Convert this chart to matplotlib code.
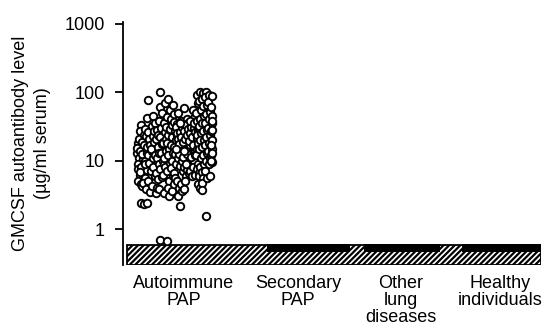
import matplotlib
matplotlib.use("Agg")
import matplotlib.pyplot as plt
from matplotlib.patches import Rectangle
from matplotlib.ticker import NullLocator

plt.rcParams['font.family'] = ['Liberation Sans', 'DejaVu Sans']
plt.rcParams['hatch.linewidth'] = 1.6

categories = ["Autoimmune\nPAP", "Secondary\nPAP", "Other\nlung\ndiseases", "Healthy\nindividuals"]
yticks = [1, 10, 100, 1000]
ytick_labels = ["1", "10", "100", "1000"]

# Autoimmune PAP: individual serum values (µg/ml) with their horizontal jitter
aip_points = [
    # left part
    (-0.62, 18), (-0.63, 13), (-0.61, 11), (-0.62, 9), (-0.60, 6.2), (-0.62, 5), (-0.59, 4.6),
    (-0.63, 15.5), (-0.61, 21), (-0.62, 7.5),
    (-0.59, 33), (-0.60, 27), (-0.58, 19), (-0.60, 14), (-0.57, 10.5), (-0.59, 8), (-0.60, 6.8),
    (-0.56, 5.3), (-0.58, 4.3), (-0.59, 2.4), (-0.58, 12.5), (-0.56, 24),
    (-0.55, 29), (-0.54, 23), (-0.56, 17), (-0.53, 13), (-0.55, 9.8), (-0.53, 7.4), (-0.55, 5.6),
    (-0.57, 4.7), (-0.54, 3.9), (-0.56, 2.3), (-0.53, 16), (-0.55, 8.8),
    (-0.53, 42), (-0.52, 26), (-0.51, 20.5), (-0.50, 17), (-0.52, 12), (-0.51, 9.3), (-0.49, 7),
    (-0.52, 5), (-0.50, 3.5), (-0.53, 2.4), (-0.48, 14), (-0.47, 11),
    (-0.52, 77), (-0.48, 32), (-0.47, 23), (-0.46, 19), (-0.49, 15), (-0.45, 12), (-0.47, 8),
    (-0.45, 6), (-0.48, 4.2), (-0.44, 3.4), (-0.46, 27),
    (-0.47, 45), (-0.45, 36), (-0.43, 28), (-0.44, 21), (-0.42, 16), (-0.43, 11), (-0.41, 8.8),
    (-0.44, 6.6), (-0.42, 5.4), (-0.43, 4), (-0.41, 13), (-0.42, 24),
    # middle-left
    (-0.40, 60), (-0.41, 38), (-0.39, 30), (-0.40, 22), (-0.38, 17.5), (-0.39, 13), (-0.37, 10),
    (-0.40, 7.5), (-0.38, 5.8), (-0.41, 3.8), (-0.36, 9), (-0.37, 19),
    (-0.40, 100), (-0.38, 50), (-0.36, 35), (-0.35, 26), (-0.37, 18), (-0.34, 14), (-0.36, 11),
    (-0.35, 8.2), (-0.37, 6.2), (-0.36, 3.4), (-0.34, 21),
    (-0.40, 0.70), (-0.33, 0.67),
    (-0.35, 70), (-0.33, 44), (-0.34, 31), (-0.32, 24), (-0.33, 18), (-0.31, 15), (-0.32, 12),
    (-0.30, 9.3), (-0.33, 7), (-0.31, 5), (-0.30, 28),
    (-0.32, 80), (-0.30, 55), (-0.29, 40), (-0.30, 29), (-0.28, 22), (-0.29, 17), (-0.27, 13),
    (-0.28, 10), (-0.29, 7.8), (-0.27, 6), (-0.32, 4), (-0.28, 33), (-0.31, 3.1), (-0.28, 3.6),
    (-0.27, 65), (-0.26, 48), (-0.26, 37), (-0.25, 27), (-0.24, 20), (-0.26, 16), (-0.25, 12.5),
    (-0.24, 9), (-0.26, 6.5), (-0.25, 5.5), (-0.23, 24), (-0.26, 4.5),
    # centre
    (-0.22, 50), (-0.23, 34), (-0.21, 28), (-0.22, 23), (-0.20, 19), (-0.21, 15), (-0.22, 11),
    (-0.20, 8.5), (-0.23, 5), (-0.21, 4), (-0.22, 3.1), (-0.20, 14),
    (-0.19, 38), (-0.18, 33), (-0.19, 29), (-0.17, 25), (-0.18, 21), (-0.19, 17), (-0.17, 13),
    (-0.18, 10), (-0.17, 7), (-0.19, 4.6), (-0.18, 3.6), (-0.20, 2.2),
    (-0.16, 58), (-0.15, 36), (-0.16, 31), (-0.14, 27), (-0.15, 23), (-0.16, 19), (-0.14, 15),
    (-0.15, 11), (-0.16, 8), (-0.14, 6), (-0.15, 5), (-0.16, 3.8),
    (-0.13, 40), (-0.12, 35), (-0.13, 30), (-0.11, 26), (-0.12, 22), (-0.13, 18), (-0.11, 14),
    (-0.12, 10.5), (-0.13, 7.2), (-0.11, 6.5),
    (-0.10, 32), (-0.09, 34), (-0.10, 30), (-0.08, 26), (-0.09, 21), (-0.10, 17), (-0.08, 13),
    (-0.09, 9.5), (-0.10, 7), (-0.08, 6), (-0.07, 28), (-0.06, 24),
    (-0.07, 55), (-0.06, 42), (-0.07, 33), (-0.05, 28), (-0.06, 23), (-0.07, 19), (-0.05, 14),
    (-0.06, 10), (-0.07, 8), (-0.05, 6.2), (-0.04, 20), (-0.04, 16),
    # dense core
    (-0.245, 31), (-0.235, 25.5), (-0.225, 21), (-0.215, 17.5), (-0.205, 26), (-0.195, 22),
    (-0.185, 31.5), (-0.175, 18.5), (-0.165, 27.5), (-0.155, 20.5), (-0.145, 33), (-0.135, 24),
    (-0.125, 29), (-0.115, 19.5), (-0.105, 25), (-0.095, 31), (-0.085, 22), (-0.075, 17),
    (-0.065, 30), (-0.055, 26), (-0.045, 35), (-0.035, 21.5), (-0.025, 27), (-0.015, 23.5),
    (-0.21, 12.5), (-0.17, 11.5), (-0.13, 12.5), (-0.09, 11.5), (-0.05, 12), (-0.14, 9),
    (-0.24, 15), (-0.2, 36), (-0.1, 38), (-0.06, 36), (-0.16, 14), (-0.03, 15),
    # right part
    (-0.03, 90), (-0.02, 70), (-0.04, 50), (-0.03, 38), (-0.01, 30), (-0.03, 24), (-0.02, 18),
    (-0.04, 12), (-0.02, 9), (-0.03, 7.5), (-0.01, 6.5), (-0.02, 4.5),
    (0.00, 100), (-0.01, 75), (0.01, 55), (0.00, 40), (-0.01, 32), (0.01, 25), (0.00, 20),
    (-0.01, 15), (0.01, 11), (0.00, 8), (-0.01, 6), (0.00, 4),
    (0.03, 98), (0.02, 80), (0.03, 62), (0.04, 45), (0.02, 35), (0.03, 27), (0.04, 20),
    (0.02, 16), (0.03, 12), (0.04, 9), (0.02, 6.8), (0.03, 5.5), (0.02, 4.8), (0.02, 3.7),
    (0.06, 100), (0.05, 85), (0.07, 65), (0.06, 48), (0.05, 36), (0.07, 28), (0.06, 22),
    (0.05, 17), (0.07, 13), (0.06, 10), (0.05, 7), (0.07, 5.5),
    (0.09, 92), (0.08, 72), (0.10, 52), (0.09, 40), (0.08, 30), (0.10, 24), (0.09, 18),
    (0.08, 14), (0.10, 11), (0.09, 9), (0.10, 6), (0.06, 1.55),
    (0.12, 88), (0.11, 60), (0.12, 45), (0.12, 35), (0.11, 27), (0.12, 20), (0.12, 15),
    (0.11, 12), (0.12, 9.5),
    (0.12, 38), (0.12, 28), (0.11, 17), (0.12, 13), (0.11, 10),
]
aip_x = [p[0] for p in aip_points]
aip_y = [p[1] for p in aip_points]

# detection-limit band and the below-detection (undetectable) strips per group
detection_limit = 0.586
band_bottom = 0.30
strip_bottom = 0.464
strip_ranges = [(0.67, 1.50), (1.64, 2.40), (2.62, 3.41)]

fig = plt.figure(figsize=(5.47, 3.30), dpi=100)
ax = fig.add_axes([0.2249, 0.197, 0.7641, 0.736])
ax.set_yscale('log')
ax.set_xlim(-0.77, 3.41)
ax.set_ylim(band_bottom, 1055)

ax.add_patch(Rectangle((-0.735, band_bottom), 3.41 + 0.735, detection_limit - band_bottom,
                       facecolor='white', edgecolor='black', hatch='//////',
                       linewidth=1.3, zorder=2))
for a, b in strip_ranges:
    ax.add_patch(Rectangle((a, strip_bottom), b - a, detection_limit * 1.03 - strip_bottom,
                           facecolor='black', edgecolor='black', linewidth=0, zorder=2.5))

ax.plot(aip_x, aip_y, linestyle='none', marker='o', markersize=5.4,
        markerfacecolor='white', markeredgecolor='black', markeredgewidth=1.35, zorder=3)

ax.set_yticks(yticks)
ax.set_yticklabels(ytick_labels, fontsize=13)
ax.yaxis.set_minor_locator(NullLocator())
ax.tick_params(axis='y', direction='out', length=6, width=1.3, pad=7)
ax.set_xticks([-0.16, 0.98, 2.01, 3.00])
ax.set_xticklabels(categories, fontsize=13, linespacing=1.02)
ax.tick_params(axis='x', length=0, pad=7)
for s in ['top', 'right', 'bottom']:
    ax.spines[s].set_visible(False)
ax.spines['left'].set_linewidth(1.3)

ax.set_ylabel("GMCSF autoantibody level\n(µg/ml serum)", fontsize=13, labelpad=10, linespacing=1.4)

fig.savefig("out.png", dpi=100)
